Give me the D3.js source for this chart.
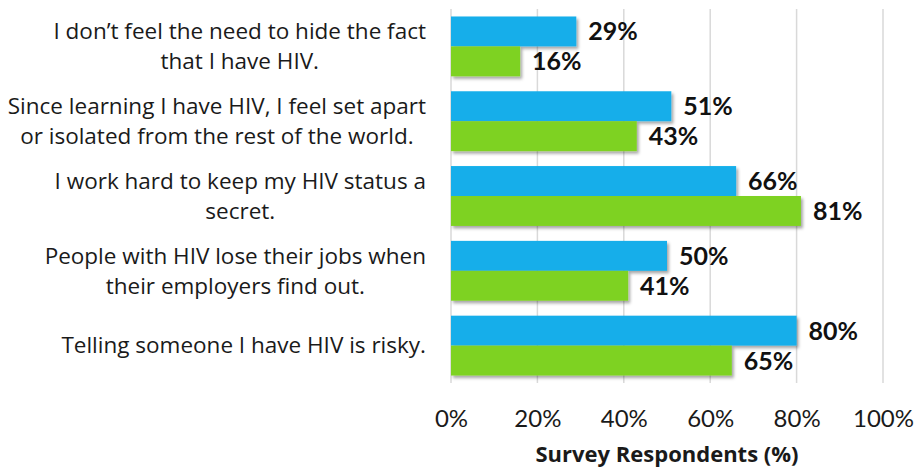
<!DOCTYPE html>
<html>
<head>
<meta charset="utf-8">
<script src="https://cdn.jsdelivr.net/npm/d3@7"></script>
<style>
  html, body { margin: 0; padding: 0; background: #fff; }
  svg { display: block; }
</style>
</head>
<body>
<div id="chart"></div>
<script>
// ---- data ----
const categories = [
  ["I don\u2019t feel the need to hide the fact", "that I have HIV."],
  ["Since learning I have HIV, I feel set apart", "or isolated from the rest of the world."],
  ["I work hard to keep my HIV status a", "secret."],
  ["People with HIV lose their jobs when", "their employers find out."],
  ["Telling someone I have HIV is risky."]
];
const seriesBlue = [29, 51, 66, 50, 80];
const seriesGreen = [16, 43, 81, 41, 65];
const xTicks = [0, 20, 40, 60, 80, 100];
const xTitle = "Survey Respondents (%)";

// ---- layout ----
const W = 914, H = 468;
const plot = { left: 451, right: 883, top: 9, bottom: 383 };
const FONT_NUM = "Lato, 'Open Sans', sans-serif";
const FONT_TXT = "'Open Sans', 'Noto Sans', sans-serif";
const blue = "#13AEEA", green = "#7ED220";

const svg = d3.select("#chart").append("svg").attr("width", W).attr("height", H);

const defs = svg.append("defs");
const f = defs.append("filter").attr("id", "shadow")
  .attr("x", "-5%").attr("y", "-20%").attr("width", "115%").attr("height", "160%");
f.append("feDropShadow").attr("dx", 2).attr("dy", 2.5).attr("stdDeviation", 1.6)
  .attr("flood-color", "#000").attr("flood-opacity", 0.35);

const x = d3.scaleLinear().domain([0, 100]).range([plot.left, plot.right]);
const y = d3.scaleBand().domain(d3.range(categories.length))
  .range([plot.top, plot.bottom]).paddingInner(0.2).paddingOuter(0.1);
const sub = d3.scaleBand().domain(["blue", "green"]).range([0, y.bandwidth()]);

// gridlines
svg.append("g").selectAll("line").data(xTicks).join("line")
  .attr("x1", d => x(d)).attr("x2", d => x(d))
  .attr("y1", plot.top).attr("y2", plot.bottom)
  .attr("stroke", "#d9d9d9").attr("stroke-width", 1.5);

// x axis tick labels
const xAxis = d3.axisBottom(x).tickValues(xTicks).tickFormat(d => d + "%").tickSize(0).tickPadding(0);
const ax = svg.append("g").attr("transform", `translate(0,${plot.bottom})`).call(xAxis);
ax.select(".domain").remove();
ax.selectAll("text").attr("font-family", FONT_NUM).attr("font-size", 24).attr("fill", "#1a1a1a")
  .attr("dy", null).attr("y", 44);

// axis title
svg.append("text").attr("x", (plot.left + plot.right) / 2).attr("y", 462)
  .attr("text-anchor", "middle").attr("font-family", FONT_TXT).attr("font-weight", "bold")
  .attr("font-size", 22).attr("fill", "#1a1a1a").text(xTitle);

// bars
const data = [];
categories.forEach((c, i) => {
  data.push({ i, key: "blue", v: seriesBlue[i], color: blue });
  data.push({ i, key: "green", v: seriesGreen[i], color: green });
});
svg.append("g").attr("filter", "url(#shadow)").selectAll("rect").data(data).join("rect")
  .attr("x", x(0))
  .attr("y", d => y(d.i) + sub(d.key))
  .attr("width", d => x(d.v) - x(0))
  .attr("height", sub.bandwidth())
  .attr("fill", d => d.color);

// value labels
svg.append("g").selectAll("text").data(data).join("text")
  .attr("x", d => x(d.v) + 12)
  .attr("y", d => y(d.i) + sub(d.key) + sub.bandwidth() / 2)
  .attr("dy", "0.36em")
  .attr("font-family", FONT_NUM).attr("font-weight", "bold").attr("font-size", 25)
  .attr("fill", "#111").text(d => d.v + "%");

// category labels (centered lines, block right-aligned)
const labelRight = 426, lineH = 30;
const cg = svg.append("g");
categories.forEach((lines, i) => {
  const cy = y(i) + y.bandwidth() / 2;
  const g = cg.append("g");
  const texts = lines.map((t, k) => g.append("text")
    .attr("font-family", FONT_TXT).attr("font-size", 22.5).attr("fill", "#1a1a1a")
    .attr("text-anchor", "middle")
    .attr("y", cy + (k - (lines.length - 1) / 2) * lineH)
    .attr("dy", "0.35em").text(t));
  const maxW = d3.max(texts, t => t.node().getComputedTextLength());
  texts.forEach(t => t.attr("x", labelRight - maxW / 2));
});
</script>
</body>
</html>
